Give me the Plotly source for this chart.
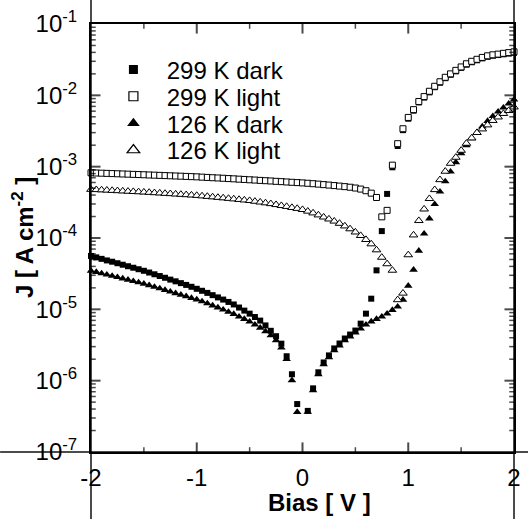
import math
import plotly.graph_objects as go

BIAS = [-2.00, -1.95, -1.90, -1.85, -1.80, -1.75, -1.70, -1.65, -1.60, -1.55,
        -1.50, -1.45, -1.40, -1.35, -1.30, -1.25, -1.20, -1.15, -1.10, -1.05,
        -1.00, -0.95, -0.90, -0.85, -0.80, -0.75, -0.70, -0.65, -0.60, -0.55,
        -0.50, -0.45, -0.40, -0.35, -0.30, -0.25, -0.20, -0.15, -0.10, -0.05,
        0.00, 0.05, 0.10, 0.15, 0.20, 0.25, 0.30, 0.35, 0.40, 0.45,
        0.50, 0.55, 0.60, 0.65, 0.70, 0.75, 0.80, 0.85, 0.90, 0.95,
        1.00, 1.05, 1.10, 1.15, 1.20, 1.25, 1.30, 1.35, 1.40, 1.45,
        1.50, 1.55, 1.60, 1.65, 1.70, 1.75, 1.80, 1.85, 1.90, 1.95, 2.00]

J_299_DARK = [5.6e-5, 5.35e-5, 5.1e-5, 4.85e-5, 4.65e-5, 4.43e-5, 4.22e-5, 4.02e-5, 3.83e-5, 3.65e-5,
              3.47e-5, 3.28e-5, 3.1e-5, 2.93e-5, 2.77e-5, 2.61e-5, 2.47e-5, 2.33e-5, 2.2e-5, 2.07e-5,
              1.94e-5, 1.82e-5, 1.7e-5, 1.58e-5, 1.47e-5, 1.37e-5, 1.27e-5, 1.17e-5, 1.06e-5, 9.6e-6,
              8.7e-6, 7.8e-6, 6.95e-6, 5.95e-6, 5.0e-6, 4.2e-6, 3.3e-6, 2.2e-6, 1.23e-6, 4.7e-7,
              None, 3.77e-7, 7.8e-7, 1.31e-6, 1.8e-6, 2.26e-6, 2.83e-6, 3.32e-6, 3.9e-6, 4.43e-6,
              5.04e-6, 6.3e-6, 8.7e-6, 1.41e-5, 3.52e-5, 1.25e-4, 4.15e-4, 9.8e-4, 1.95e-3, 3.25e-3,
              4.7e-3, 6.1e-3, 7.95e-3, 9.3e-3, 1.1e-2, 1.3e-2, 1.5e-2, 1.74e-2, 1.94e-2, 2.17e-2,
              2.43e-2, 2.69e-2, 2.91e-2, 3.1e-2, 3.3e-2, 3.47e-2, 3.59e-2, 3.67e-2, 3.76e-2, 3.85e-2, 3.95e-2]

J_299_LIGHT = [8.2e-4, 8.15e-4, 8.1e-4, 8.05e-4, 8.0e-4, 7.95e-4, 7.9e-4, 7.85e-4, 7.8e-4, 7.75e-4,
               7.7e-4, 7.65e-4, 7.6e-4, 7.55e-4, 7.5e-4, 7.45e-4, 7.4e-4, 7.35e-4, 7.3e-4, 7.25e-4,
               7.2e-4, 7.13e-4, 7.07e-4, 7.0e-4, 6.94e-4, 6.88e-4, 6.81e-4, 6.75e-4, 6.68e-4, 6.62e-4,
               6.55e-4, 6.49e-4, 6.42e-4, 6.36e-4, 6.3e-4, 6.23e-4, 6.17e-4, 6.1e-4, 6.04e-4, 5.98e-4,
               5.92e-4, 5.85e-4, 5.77e-4, 5.69e-4, 5.6e-4, 5.52e-4, 5.43e-4, 5.34e-4, 5.25e-4, 5.15e-4,
               5.02e-4, 4.85e-4, 4.6e-4, 4.25e-4, 3.7e-4, 1.98e-4, 2.44e-4, 1.05e-3, 2.1e-3, 3.4e-3,
               4.9e-3, 6.3e-3, 8.2e-3, 9.6e-3, 1.14e-2, 1.34e-2, 1.55e-2, 1.79e-2, 2.0e-2, 2.24e-2,
               2.5e-2, 2.77e-2, 3.0e-2, 3.2e-2, 3.4e-2, 3.58e-2, 3.7e-2, 3.78e-2, 3.88e-2, 3.97e-2, 4.07e-2]

J_126_DARK = [3.47e-5, 3.33e-5, 3.19e-5, 3.06e-5, 2.94e-5, 2.82e-5, 2.7e-5, 2.59e-5, 2.48e-5, 2.38e-5,
              2.28e-5, 2.17e-5, 2.06e-5, 1.96e-5, 1.86e-5, 1.77e-5, 1.68e-5, 1.6e-5, 1.52e-5, 1.44e-5,
              1.37e-5, 1.29e-5, 1.21e-5, 1.13e-5, 1.06e-5, 9.9e-6, 9.2e-6, 8.6e-6, 7.9e-6, 7.3e-6,
              6.7e-6, 6.1e-6, 5.5e-6, 4.9e-6, 4.3e-6, 3.66e-6, 2.9e-6, 2.0e-6, 1.01e-6, 3.63e-7,
              None, 3.65e-7, 7.33e-7, 1.23e-6, 1.69e-6, 2.12e-6, 2.65e-6, 3.11e-6, 3.66e-6, 4.16e-6,
              4.73e-6, 5.37e-6, 6.1e-6, 6.73e-6, 7.3e-6, 7.9e-6, 8.7e-6, 9.75e-6, 1.09e-5, 1.36e-5,
              2.14e-5, 3.58e-5, 6.6e-5, 1.15e-4, 1.87e-4, 2.98e-4, 4.46e-4, 6.2e-4, 8.5e-4, 1.15e-3,
              1.53e-3, 1.99e-3, 2.5e-3, 3.0e-3, 3.65e-3, 4.36e-3, 5.1e-3, 5.9e-3, 6.7e-3, 7.65e-3, 8.7e-3]

J_126_LIGHT = [4.79e-4, 4.75e-4, 4.71e-4, 4.67e-4, 4.63e-4, 4.59e-4, 4.55e-4, 4.51e-4, 4.47e-4, 4.43e-4,
               4.39e-4, 4.35e-4, 4.3e-4, 4.26e-4, 4.21e-4, 4.17e-4, 4.12e-4, 4.08e-4, 4.03e-4, 3.99e-4,
               3.94e-4, 3.88e-4, 3.82e-4, 3.76e-4, 3.7e-4, 3.64e-4, 3.58e-4, 3.52e-4, 3.46e-4, 3.4e-4,
               3.34e-4, 3.26e-4, 3.18e-4, 3.1e-4, 3.02e-4, 2.93e-4, 2.84e-4, 2.76e-4, 2.67e-4, 2.59e-4,
               2.5e-4, 2.37e-4, 2.24e-4, 2.1e-4, 1.96e-4, 1.84e-4, 1.72e-4, 1.6e-4, 1.47e-4, 1.34e-4,
               1.21e-4, 1.08e-4, 9.5e-5, 8.25e-5, 6.8e-5, 5.35e-5, 4.34e-5, 3.52e-5, 1.36e-5, 1.68e-5,
               5.8e-5, 1.1e-4, 1.75e-4, 2.54e-4, 3.56e-4, 4.75e-4, 6.55e-4, 8.6e-4, 1.11e-3, 1.35e-3,
               1.69e-3, 2.12e-3, 2.52e-3, 3.0e-3, 3.37e-3, 3.84e-3, 4.43e-3, 4.96e-3, 5.55e-3, 6.1e-3, 6.84e-3]

SERIES_NAMES = ["299 K dark", "299 K light", "126 K dark", "126 K light"]
X_RANGE = [-2, 2]
X_TICKS = [-2, -1, 0, 1, 2]
X_MINOR_TICKS = [-1.5, -0.5, 0.5, 1.5]
Y_EXPONENTS = [-7, -6, -5, -4, -3, -2, -1]

FONT = "Liberation Sans, Arial, Helvetica, sans-serif"
NBSP = "\u00a0"

W, H = 528, 519
M_L, M_R, M_T, M_B = 91, 7, 22, 67
PLOT_W, PLOT_H = W - M_L - M_R, H - M_T - M_B
ymin, ymax = Y_EXPONENTS[0], Y_EXPONENTS[-1]

series = [
    (SERIES_NAMES[0], J_299_DARK, "square", "black", 6, 9),
    (SERIES_NAMES[1], J_299_LIGHT, "square", "white", 6, 9),
    (SERIES_NAMES[2], J_126_DARK, "triangle-up", "black", 7.5, 11),
    (SERIES_NAMES[3], J_126_LIGHT, "triangle-up", "white", 7.5, 11),
]
legend_ids = ["legend", "legend2", "legend3", "legend4"]
legend_rows_px = [68, 95, 122, 149]   # vertical centre of each legend row (px from top)

# ---- axis frame and inward ticks, drawn as line-shaped markers ----
def px_to_data(xp, yp):
    x = X_RANGE[0] + xp * (X_RANGE[1] - X_RANGE[0]) / PLOT_W
    y = 10.0 ** (ymin + yp * (ymax - ymin) / PLOT_H)
    return x, y
def xpix(v):
    return (v - X_RANGE[0]) * PLOT_W / (X_RANGE[1] - X_RANGE[0])
def ypix(v):
    return (math.log10(v) - ymin) * PLOT_H / (ymax - ymin)

deco = []   # (xp, yp, symbol, length, width)
deco.append((PLOT_W / 2, 0, "line-ew", PLOT_W + 2, 2))
deco.append((PLOT_W / 2, PLOT_H, "line-ew", PLOT_W + 2, 2))
deco.append((0, PLOT_H / 2, "line-ns", PLOT_H + 2, 2))
deco.append((PLOT_W, PLOT_H / 2, "line-ns", PLOT_H + 2, 2))
for ticks, L, w in ((X_TICKS[1:-1], 8, 2), (X_MINOR_TICKS, 4, 1.5)):
    for v in ticks:
        deco.append((xpix(v), L / 2, "line-ns", L, w))
        deco.append((xpix(v), PLOT_H - L / 2, "line-ns", L, w))
y_major = [10.0 ** e for e in Y_EXPONENTS[1:-1]]
y_minor = [k * 10.0 ** e for e in Y_EXPONENTS[:-1] for k in range(2, 10)]
for ticks, L, w in ((y_major, 8, 2), (y_minor, 4, 1.5)):
    for v in ticks:
        deco.append((L / 2, ypix(v), "line-ew", L, w))
        deco.append((PLOT_W - L / 2, ypix(v), "line-ew", L, w))

fig = go.Figure()
for name, ys, sym, fill, size, lsize in series:
    lw = 1 if fill == "white" else 0
    fig.add_trace(go.Scatter(
        x=BIAS, y=ys, mode="markers", name=name, showlegend=False,
        cliponaxis=False,
        marker=dict(symbol=sym, size=size, color=fill,
                    line=dict(color="black", width=lw)),
    ))

groups = {}
for xp, yp, sym, L, w in deco:
    groups.setdefault((sym, w), []).append((xp, yp, L))
for (sym, w), items in groups.items():
    xs, ys, sizes = [], [], []
    for xp, yp, L in items:
        x, y = px_to_data(xp, yp)
        xs.append(x)
        ys.append(y)
        sizes.append(L)
    fig.add_trace(go.Scatter(
        x=xs, y=ys, mode="markers", showlegend=False, hoverinfo="skip",
        cliponaxis=False,
        marker=dict(symbol=sym, size=sizes, sizemode="diameter", color="black",
                    line=dict(color="black", width=w)),
    ))

for (name, ys, sym, fill, size, lsize), lid in zip(series, legend_ids):
    lw = 1.2 if fill == "white" else 0
    fig.add_trace(go.Scatter(
        x=[None], y=[None], mode="markers", name=NBSP + NBSP + name,
        showlegend=True, legend=lid,
        marker=dict(symbol=sym, size=lsize, color=fill,
                    line=dict(color="black", width=lw)),
    ))

y_tickvals = [10.0 ** e for e in Y_EXPONENTS]
y_ticktext = ["10<sup>%d</sup>" % e for e in Y_EXPONENTS]

legend_layout = {}
for lid, row in zip(legend_ids, legend_rows_px):
    legend_layout[lid] = dict(
        x=0.053, y=1 - (row - M_T) / PLOT_H, xanchor="left", yanchor="middle",
        bgcolor="rgba(0,0,0,0)", borderwidth=0,
        font=dict(family=FONT, size=24, color="black"))

fig.update_layout(
    width=W, height=H,
    margin=dict(l=M_L, r=M_R, t=M_T, b=M_B),
    paper_bgcolor="white", plot_bgcolor="white",
    font=dict(family=FONT, color="black", size=24),
    showlegend=True,
    xaxis=dict(
        range=X_RANGE, showline=True, linewidth=2, linecolor="black", mirror=True,
        showgrid=False, zeroline=False,
        ticks="outside", ticklen=3, tickcolor="rgba(0,0,0,0)",
        tickmode="array", tickvals=X_TICKS, ticktext=[str(v) for v in X_TICKS],
        tickfont=dict(family=FONT, size=24)),
    yaxis=dict(
        type="log", range=[ymin, ymax], showline=True, linewidth=2, linecolor="black",
        mirror=True, showgrid=False, zeroline=False,
        ticks="outside", ticklen=7, tickcolor="rgba(0,0,0,0)",
        tickmode="array", tickvals=y_tickvals, ticktext=y_ticktext,
        tickfont=dict(family=FONT, size=24)),
    annotations=[
        dict(text="<b>Bias [ V ]</b>", xref="paper", yref="paper", x=0.54, y=0,
             yshift=-50, xanchor="center", yanchor="middle", showarrow=False,
             font=dict(family=FONT, size=24)),
        dict(text="<b>J [ A cm<sup>-2</sup> ]</b>", xref="paper", yref="paper",
             x=0, xshift=-68, y=0.5, xanchor="center", yanchor="middle",
             textangle=-90, showarrow=False, font=dict(family=FONT, size=24)),
    ],
    **legend_layout,
)

fig.write_html(
    "out.html",
    config={"displayModeBar": False},
    post_script="document.body.style.margin='0';document.body.style.padding='0';",
)
